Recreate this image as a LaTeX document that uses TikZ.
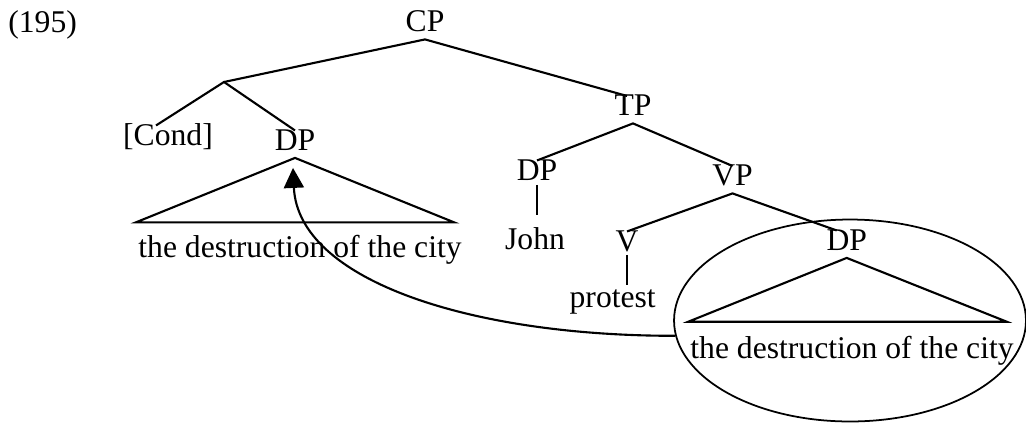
\documentclass[tikz,border=0pt]{standalone}
\usepackage{fontspec}
\setmainfont{Liberation Serif}
\usepackage{tikz}
\usetikzlibrary{
    arrows.meta,
    positioning,
    calc,
    shapes.geometric
}
\tikzset{
  cat/.style    = {inner sep=0pt, outer xsep=0pt, outer ysep=4.5pt,
                   text height=0.662em, text depth=0pt, anchor=base,
                   font=\fontsize{18}{20}\selectfont},
  words/.style  = {inner sep=0pt, anchor=base,
                   font=\fontsize{18}{20}\selectfont},
  branch/.style = {line width=1.2pt, line join=miter},
  move/.style   = {-{Triangle[length=0.4cm, width=0.4cm]}, line width=1.2pt}
}

\begin{document}
\begin{tikzpicture}[
    x=0.02cm, y=-0.02cm,
    ring/.style={draw, ellipse, line width=1pt, inner sep=0pt,
                 minimum width=7.04cm, minimum height=4.04cm}
  ]
    \useasboundingbox (0,0) rectangle (1026,423);

    \node[words, anchor=base west] (num) at (8,32) {(195)};

    % upper part
    \node[cat] (cp) at (425,31.5) {CP};
    \coordinate (bar) at (224,82);
    \node[cat] (cond) at (168,145) {[Cond]};
    \node[cat] (dpa) at (295,150) {DP};
    \node[cat] (tp) at (633,115.5) {TP};

    \draw[branch] (bar) -- (cp.south) -- ($(tp.north)+(-6,0)$);
    \draw[branch] ($(cond.north)+(-12,0)$) -- (bar) -- (dpa.north);

    % fronted DP
    \coordinate (al) at (136,222.3);
    \coordinate (ar) at (454,222.3);
    \draw[branch] (dpa.south) -- (al) -- (ar) -- cycle;
    \node[words] (texta) at (300,257) {the destruction of the city};

    % TP and VP
    \node[cat] (dpj) at (537,180) {DP};
    \node[cat] (vp) at (732.5,185.5) {VP};
    \node[words] (john) at (535,249) {John};
    \node[cat] (v) at (627,251) {V};
    \node[words] (prot) at (612.7,307) {protest};
    \node[cat] (dpb) at (846.7,250) {DP};

    \draw[branch] (dpj.north) -- (tp.south) -- (vp.north);
    \draw[branch] ($(dpj.south)+(0,-3)$) -- ($(dpj.south |- john.north)+(0,-12)$);
    \draw[branch] (v.north) -- (vp.south) -- ($(dpb.north)+(-10,0)$);
    \draw[branch] ($(v.south)+(0,-4)$) -- ($(v.south |- prot.north)+(0,-4)$);

    % lower DP
    \coordinate (bl) at (688.3,321.7);
    \coordinate (br) at (1006.7,321.7);
    \draw[branch] (dpb.south) -- (bl) -- (br) -- cycle;
    \node[words] (textb) at (852,358) {the destruction of the city};

    \node[ring] (circ) at (850,320.5) {};

    \draw[move] (circ.185) .. controls (470,336) and (298,280)
                .. ($(dpa.south)+(-2,10)$);
  \end{tikzpicture}
\end{document}
